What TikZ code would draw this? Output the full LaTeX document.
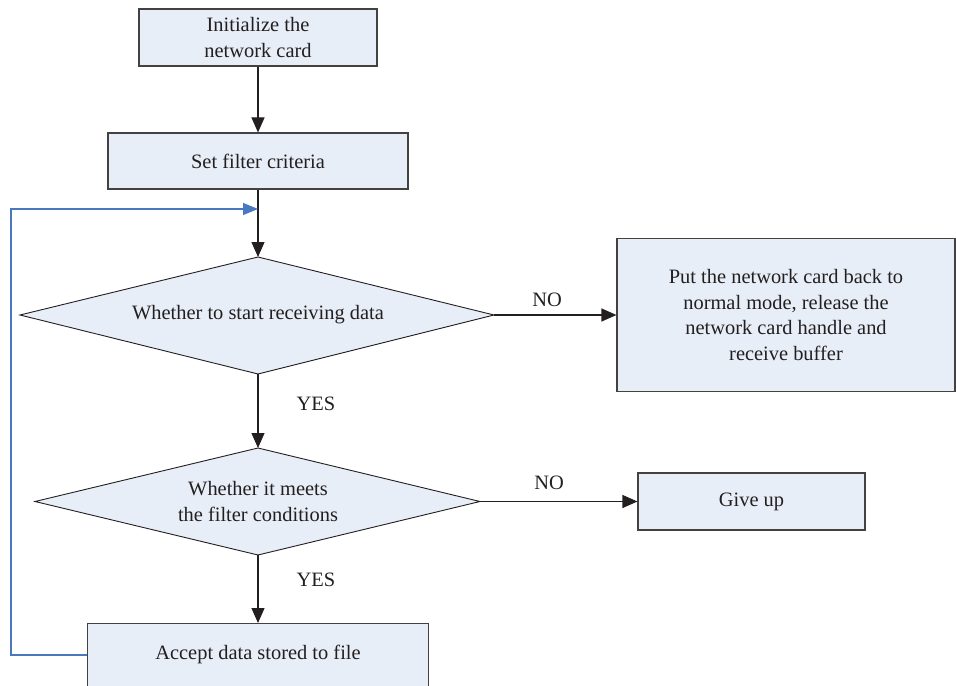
\documentclass[tikz,border=0pt]{standalone}
\usepackage{fontspec}
\setmainfont{Liberation Serif}
\usetikzlibrary{arrows.meta}
\definecolor{boxfill}{HTML}{E7EEF7}
\definecolor{ink}{HTML}{231F20}
\definecolor{loopblue}{HTML}{4A78C0}
\tikzset{
  procbox/.style={draw=ink!85, fill=boxfill, line width=1.1bp, text=ink,
    align=center, font=\fontsize{20.5}{25.5}\selectfont, inner sep=0pt},
  decision/.style={draw=ink, fill=boxfill, line width=0.9bp},
  txt/.style={text=ink, align=center, font=\fontsize{20.5}{25.5}\selectfont},
  flow/.style={draw=ink, line width=1.1bp, -{Triangle[length=15bp,width=13bp]}},
  loopback/.style={draw=loopblue, line width=1.1bp, -{Triangle[length=15bp,width=12bp]}}
}
\begin{document}
\begin{tikzpicture}[x=1bp, y=-1bp]
\useasboundingbox (0,0) rectangle (956,686);
% process boxes
\node[procbox, minimum width=238bp, minimum height=57bp] (init) at (258,37.5) {Initialize the\\network card};
\node[procbox, minimum width=300bp, minimum height=56bp] (filter) at (258,161) {Set filter criteria};
\node[procbox, minimum width=338bp, minimum height=153bp] (release) at (786,315) {Put the network card back to\\normal mode, release the\\network card handle and\\receive buffer};
\node[procbox, minimum width=227bp, minimum height=57bp] (giveup) at (751.5,501.5) {Give up};
\node[procbox, minimum width=341bp, minimum height=64bp, anchor=north] (accept) at (258,623) {};
\node[txt] at (258,654) {Accept data stored to file};
% decisions drawn as polygons
\coordinate (d1t) at (258,257);
\coordinate (d1b) at (258,374);
\coordinate (d1l) at (20,315);
\coordinate (d1r) at (494,315);
\filldraw[decision] (d1t) -- (d1r) -- (d1b) -- (d1l) -- cycle;
\node[txt] (d1) at (258,315) {Whether to start receiving data};
\coordinate (d2t) at (258,448);
\coordinate (d2b) at (258,555);
\coordinate (d2l) at (35,501.5);
\coordinate (d2r) at (480,501.5);
\filldraw[decision] (d2t) -- (d2r) -- (d2b) -- (d2l) -- cycle;
\node[txt] (d2) at (258,501.5) {Whether it meets\\the filter conditions};
% connectors
\draw[flow] (init.south) -- (filter.north);
\draw[flow] (filter.south) -- (d1t);
\draw[flow] (d1r) -- (release.west);
\draw[flow] (d1b) -- (d2t);
\draw[flow] (d2r) -- (giveup.west);
\draw[flow] (d2b) -- (accept.north);
% loop back from the store step
\coordinate (loopin) at (258,209);
\draw[loopback] (accept.west |- 0,655) -- (11,655) -- (11,209) -- (loopin);
% branch labels
\node[txt] at (547,300) {NO};
\node[txt] at (549,483) {NO};
\node[txt] at (316,404) {YES};
\node[txt] at (316,580) {YES};
\end{tikzpicture}
\end{document}
